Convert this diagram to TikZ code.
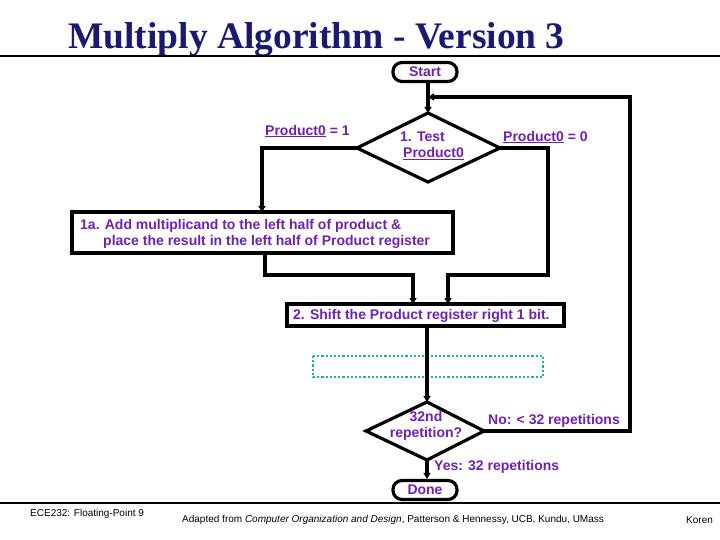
\documentclass[tikz,border=0pt]{standalone}
\usepackage{fontspec}
\setmainfont{Liberation Sans}
\newfontfamily\titlefont{Liberation Serif}
\usetikzlibrary{shapes.geometric,arrows.meta}
\definecolor{txt}{HTML}{7020B0}
\definecolor{ttl}{HTML}{1A1A70}
\definecolor{teal}{HTML}{20B0A0}
\begin{document}
\begin{tikzpicture}[x=1pt,y=-1pt,
  ln/.style={line width=3.2pt},
  ar/.style={ln,-{Triangle[length=6pt,width=7pt]}},
  lb/.style={text=txt,font=\bfseries\fontsize{14}{15.5}\selectfont,inner sep=0pt},
  box/.style={draw,line width=3.2pt,inner sep=0pt},
  term/.style={draw,line width=3.2pt,rounded corners=9pt,inner sep=0pt,minimum width=64pt,minimum height=19pt,text=txt,font=\bfseries\fontsize{14}{15}\selectfont},
  foot/.style={font=\fontsize{10}{11}\selectfont,inner sep=0pt,anchor=west}]
\useasboundingbox (0,0) rectangle (720,540);
\node[anchor=west,text=ttl,font=\titlefont\bfseries\fontsize{37.5}{40}\selectfont,inner sep=0pt] (title) at (68,40) {Multiply Algorithm - Version 3};
\draw[line width=1.5pt] (0,56) -- (720,56);
\draw[line width=1.5pt] (0,503) -- (720,503);
% terminals
\node[term] (start) at (425,72) {Start};
\node[term] (done) at (425,490) {Done};
% diamonds
\draw[ln] (428,113) coordinate (d1t) -- (500,148) coordinate (d1r) -- (428,182) -- (357,148) coordinate (d1l) -- cycle;
\node[lb,align=left] (d1) at (432,146) {1. Test\\\hspace*{3pt}\underline{Product0}};
\draw[ln] (427,402) coordinate (d2t) -- (484,431) coordinate (d2r) -- (427,460) coordinate (d2b) -- (366,431) -- cycle;
\node[lb,align=center] (d2) at (426,426) {32nd\\repetition?};
% boxes
\draw[box] (72,212) rectangle (453,253);
\node[lb,anchor=west] (b1a) at (80,226) {1a. Add multiplicand to the left half of product \&};
\node[lb,anchor=west] (b1b) at (103,242) {place the result in the left half of Product register};
\draw[box] (287,304) rectangle (564,326);
\node[lb,anchor=west] (b2) at (293,316) {2. Shift the Product register right 1 bit.};
\draw[teal,line width=2.2pt,dotted] (313,356) rectangle (543,377);
% labels
\node[lb,anchor=west] (p1) at (265,131) {\underline{Product0} = 1};
\node[lb,anchor=west] (p0) at (503,137) {\underline{Product0} = 0};
\node[lb,anchor=west] (no) at (488,421) {No: < 32 repetitions};
\node[lb,anchor=west] (yes) at (434,467) {Yes: 32 repetitions};
% connectors
\draw[ar] (start.south -| 428,0) -- (d1t);
\draw[ln] (d1l) -- (262,148);
\draw[ar] (262,146.4) -- (262,212);
\draw[ln] (d1r) -- (548,148) -- (548,275) -- (448,275);
\draw[ar] (448,273.4) -- (448,304);
\draw[ln] (265,253) -- (265,275) -- (413,275);
\draw[ar] (413,273.4) -- (413,304);
\draw[ar] (427,326) -- (d2t);
\draw[ln] (d2r) -- (630,431) -- (630,97) -- (440,97);
\draw[ar] (445,97) -- (428,97);
\draw[ar] (d2b) -- (done.north -| 427,0);
% footer
\node[foot] (f1) at (30,514) {ECE232: Floating-Point 9};
\node[foot] (f2) at (182,520) {Adapted from \textit{Computer Organization and Design}, Patterson \& Hennessy, UCB, Kundu, UMass};
\node[foot] (f3) at (686,520) {Koren};
\end{tikzpicture}
\end{document}
